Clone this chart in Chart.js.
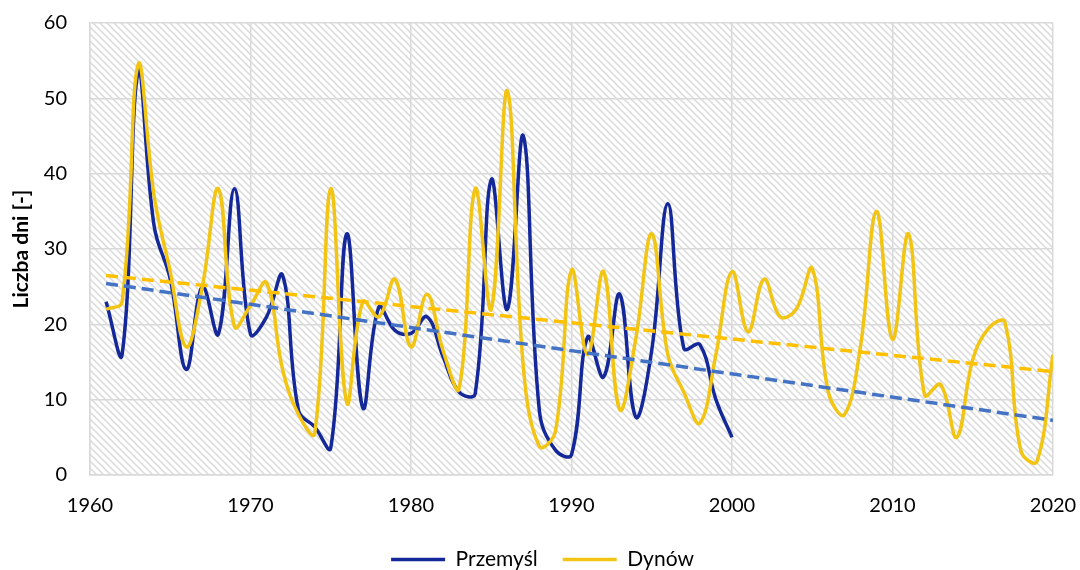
<!DOCTYPE html>
<html>
<head>
<meta charset="utf-8">
<script src="https://cdn.jsdelivr.net/npm/chart.js@4.4.1/dist/chart.umd.min.js"></script>
<style>
  html, body { margin: 0; padding: 0; background: #ffffff; }
  #wrap { width: 1080px; height: 570px; position: relative; }
  canvas { display: block; }
</style>
</head>
<body>
<div id="wrap"><canvas id="chart" width="1080" height="570"></canvas></div>
<script>
// Number of days per year at the two stations
const yearsPrzemysl = [1961, 1962, 1963, 1964, 1965, 1966, 1967, 1968, 1969, 1970,
                       1971, 1972, 1973, 1974, 1975, 1976, 1977, 1978, 1979, 1980,
                       1981, 1982, 1983, 1984, 1985, 1986, 1987, 1988, 1989, 1990,
                       1991, 1992, 1993, 1994, 1995, 1996, 1997, 1998, 1999, 2000];
const przemysl = [23, 16, 53.5, 33, 26, 14, 25, 18.7, 38, 18.7,
                  21, 26.5, 8.5, 6.4, 3.6, 32, 8.9, 22.3, 19.2, 18.8,
                  21, 15.7, 11, 10.8, 39.2, 22, 45, 8.5, 3.3, 2.7,
                  18.3, 13, 24, 7.7, 16.6, 36, 16.8, 17.3, 10, 5];

const yearsDynow = [1961, 1962, 1963, 1964, 1965, 1966, 1967, 1968, 1969, 1970,
                    1971, 1972, 1973, 1974, 1975, 1976, 1977, 1978, 1979, 1980,
                    1981, 1982, 1983, 1984, 1985, 1986, 1987, 1988, 1989, 1990,
                    1991, 1992, 1993, 1994, 1995, 1996, 1997, 1998, 1999, 2000,
                    2001, 2002, 2003, 2004, 2005, 2006, 2007, 2008, 2009, 2010,
                    2011, 2012, 2013, 2014, 2015, 2016, 2017, 2018, 2019, 2020];
const dynow = [22, 23, 54.5, 37, 27, 17, 25, 38, 19.7, 22.5,
               25.5, 14, 8, 5.5, 38, 9.6, 23, 21, 26, 17,
               24, 16.5, 11.5, 38, 22, 51, 14.3, 3.8, 5.8, 27.2,
               16, 27, 8.7, 18, 32, 16, 11, 6.9, 16, 27,
               19, 26, 21, 22, 27.4, 11, 8, 17, 35, 18,
               32, 10.6, 12, 5, 15.3, 19.5, 20.3, 3.2, 1.8, 16];

const seriesNames = ['Przemyśl', 'Dynów'];
const xTickValues = [1960, 1970, 1980, 1990, 2000, 2010, 2020];
const yTickValues = [0, 10, 20, 30, 40, 50, 60];
const trendSpan = [1961, 2020];

const FONT = 'Lato, "Open Sans", "DejaVu Sans", sans-serif';

function toPoints(xs, ys) {
  return xs.map((x, i) => ({ x: x, y: ys[i] }));
}

// Ordinary least-squares fit, evaluated at the ends of the trend span
function linearTrend(xs, ys) {
  const n = xs.length;
  const mx = xs.reduce((s, v) => s + v, 0) / n;
  const my = ys.reduce((s, v) => s + v, 0) / n;
  let sxy = 0, sxx = 0;
  for (let i = 0; i < n; i++) {
    sxy += (xs[i] - mx) * (ys[i] - my);
    sxx += (xs[i] - mx) * (xs[i] - mx);
  }
  const b = sxy / sxx;
  const a = my - b * mx;
  return trendSpan.map(x => ({ x: x, y: a + b * x }));
}

// Diagonal hatch behind the plot area
const hatchBackground = {
  id: 'hatchBackground',
  beforeDraw(chart) {
    const area = chart.chartArea;
    if (!area) return;
    const tile = document.createElement('canvas');
    tile.width = 7; tile.height = 7;
    const g = tile.getContext('2d');
    g.fillStyle = '#ffffff';
    g.fillRect(0, 0, 7, 7);
    g.strokeStyle = '#dedede';
    g.lineWidth = 1.6;
    g.beginPath();
    g.moveTo(-2, -2); g.lineTo(9, 9);
    g.moveTo(-2, 5); g.lineTo(2, 9);
    g.moveTo(5, -2); g.lineTo(9, 2);
    g.stroke();
    const ctx = chart.ctx;
    ctx.save();
    ctx.fillStyle = ctx.createPattern(tile, 'repeat');
    ctx.fillRect(area.left, area.top, area.right - area.left, area.bottom - area.top);
    ctx.restore();
  }
};

// Centre the legend row under the plot area rather than the whole canvas
const legendUnderPlot = {
  id: 'legendUnderPlot',
  afterLayout(chart) {
    const lg = chart.legend;
    if (!lg) return;
    const shift = 16;
    lg.left += shift;
    lg.right += shift;
  }
};

const BLUE = '#14289a';
const YELLOW = '#f2c414';
const BLUE_TREND = '#4472c4';
const YELLOW_TREND = '#ffc000';

new Chart(document.getElementById('chart'), {
  type: 'line',
  data: {
    datasets: [
      {
        label: seriesNames[0],
        data: toPoints(yearsPrzemysl, przemysl),
        borderColor: BLUE,
        backgroundColor: BLUE,
        borderWidth: 3.5,
        pointRadius: 0,
        tension: 0.4,
        order: 3
      },
      {
        label: seriesNames[1],
        data: toPoints(yearsDynow, dynow),
        borderColor: YELLOW,
        backgroundColor: YELLOW,
        borderWidth: 3.5,
        pointRadius: 0,
        tension: 0.4,
        order: 2
      },
      {
        label: 'trend ' + seriesNames[0],
        data: linearTrend(yearsPrzemysl, przemysl),
        borderColor: BLUE_TREND,
        borderWidth: 3.5,
        borderDash: [12, 6],
        pointRadius: 0,
        tension: 0,
        order: 1
      },
      {
        label: 'trend ' + seriesNames[1],
        data: linearTrend(yearsDynow, dynow),
        borderColor: YELLOW_TREND,
        borderWidth: 3.5,
        borderDash: [12, 6],
        pointRadius: 0,
        tension: 0,
        order: 0
      }
    ]
  },
  options: {
    responsive: false,
    maintainAspectRatio: false,
    animation: false,
    devicePixelRatio: 1,
    layout: { padding: { left: 0, right: 27, top: 23, bottom: -10 } },
    scales: {
      x: {
        type: 'linear',
        min: xTickValues[0],
        max: xTickValues[xTickValues.length - 1],
        afterBuildTicks(scale) {
          scale.ticks = xTickValues.map(v => ({ value: v }));
        },
        afterFit(scale) {
          scale.height = 49;
          scale.paddingLeft = 0;
          scale.paddingRight = 0;
        },
        grid: { color: '#d9d9d9', lineWidth: 1.5, drawTicks: false },
        border: { display: true, color: '#d9d9d9', width: 1.5 },
        ticks: {
          color: '#000000',
          font: { family: FONT, size: 20 },
          padding: 19,
          maxRotation: 0,
          callback: v => String(v)
        }
      },
      y: {
        min: yTickValues[0],
        max: yTickValues[yTickValues.length - 1],
        afterBuildTicks(scale) {
          scale.ticks = yTickValues.map(v => ({ value: v }));
        },
        afterFit(scale) {
          scale.width = 90;
          scale.paddingTop = 0;
          scale.paddingBottom = 0;
        },
        grid: { color: '#d9d9d9', lineWidth: 1.5, drawTicks: false },
        border: { display: true, color: '#d9d9d9', width: 1.5 },
        ticks: {
          color: '#000000',
          font: { family: FONT, size: 20 },
          padding: 23
        },
        title: {
          display: true,
          text: 'Liczba dni [-]',
          color: '#000000',
          font: { family: FONT, size: 21, weight: 'bold' },
          padding: { top: 9, bottom: 0 }
        }
      }
    },
    plugins: {
      tooltip: { enabled: false },
      legend: {
        display: true,
        position: 'bottom',
        labels: {
          filter: item => item.datasetIndex < 2,
          sort: (a, b) => a.datasetIndex - b.datasetIndex,
          usePointStyle: true,
          pointStyle: 'line',
          pointStyleWidth: 54,
          boxHeight: 21,
          padding: 25,
          color: '#000000',
          font: { family: FONT, size: 21 }
        }
      }
    }
  },
  plugins: [hatchBackground, legendUnderPlot]
});
</script>
</body>
</html>
